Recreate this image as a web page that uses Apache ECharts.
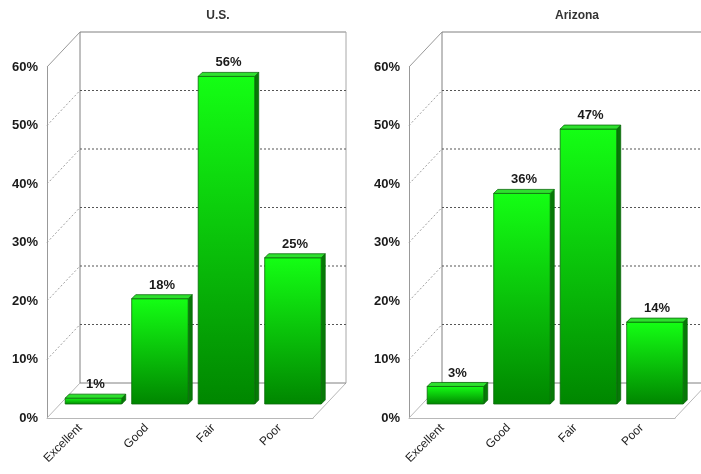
<!DOCTYPE html>
<html>
<head>
<meta charset="utf-8">
<script src="https://cdn.jsdelivr.net/npm/echarts@6/dist/echarts.min.js"></script>
<style>
  html, body { margin: 0; padding: 0; background: #fff; }
  #chart { width: 701px; height: 474px; }
</style>
</head>
<body>
<div id="chart"></div>
<script>
// Self-rated condition, share of responses per rating
const categories = ['Excellent', 'Good', 'Fair', 'Poor'];
const usValues = [1, 18, 56, 25];
const azValues = [3, 36, 47, 14];
const panelTitles = ['U.S.', 'Arizona'];
const yTicks = [0, 10, 20, 30, 40, 50, 60];

const FONT = '"Liberation Sans", Arial, sans-serif';
const WALL = [33, -35];      // offset of the back wall from the front plane
const BAR_DEPTH = 0.4;       // bars stand 40% of the way back
const BAR_THICK = 4;         // extrusion of each bar
const BAR_WIDTH = 0.85;      // share of category band

// Box: back wall, floor and dashed guides, all through the axis scales
function renderFrame(params, api) {
  const cs = params.coordSys;
  const x0 = cs.x, x1 = cs.x + cs.width;
  const dx = WALL[0], dy = WALL[1];
  const y = v => api.coord([0, v])[1];
  const yMin = y(yTicks[0]), yMax = y(yTicks[yTicks.length - 1]);
  const children = [];
  const line = (a, b, stroke, dashed) => children.push({
    type: 'line',
    shape: { x1: a[0], y1: a[1], x2: b[0], y2: b[1] },
    style: { stroke: stroke, lineWidth: 1, lineDash: dashed ? [2, 2] : null }
  });
  // floor
  line([x0, yMin], [x0 + dx, yMin + dy], '#b8b8b8');
  line([x1, yMin], [x1 + dx, yMin + dy], '#b8b8b8');
  line([x0 + dx, yMin + dy], [x1 + dx, yMin + dy], '#808080');
  // back wall outline
  line([x0 + dx, yMin + dy], [x0 + dx, yMax + dy], '#808080');
  line([x0 + dx, yMax + dy], [x1 + dx, yMax + dy], '#808080');
  line([x1 + dx, yMin + dy], [x1 + dx, yMax + dy], '#a8a8a8');
  line([x0, yMax], [x0 + dx, yMax + dy], '#999');
  // inner guides
  yTicks.slice(1, -1).forEach(t => {
    const yy = y(t);
    line([x0, yy], [x0 + dx, yy + dy], '#a0a0a0', true);
    line([x0 + dx, yy + dy], [x1 + dx, yy + dy], '#555', true);
  });
  return { type: 'group', children: children };
}

// Extruded bar with value label
function renderBar(params, api) {
  const i = api.value(0), v = api.value(1);
  const base = api.coord([i, 0]);
  const top = api.coord([i, v]);
  const w = api.size([1, 0])[0] * BAR_WIDTH;
  const ox = WALL[0] * BAR_DEPTH, oy = WALL[1] * BAR_DEPTH;
  const d = BAR_THICK;
  const l = base[0] - w / 2 + ox, r = l + w;
  const yb = base[1] + oy, yt = top[1] + oy;
  const edge = '#0a6a0a';
  return {
    type: 'group',
    children: [
      {
        type: 'polygon',
        shape: { points: [[r, yt], [r + d, yt - d], [r + d, yb - d], [r, yb]] },
        style: { fill: '#067a06', stroke: edge, lineWidth: 0.8 }
      },
      {
        type: 'rect',
        shape: { x: l, y: yt, width: w, height: yb - yt },
        style: {
          fill: {
            type: 'linear', x: 0, y: 0, x2: 0, y2: 1,
            colorStops: [
              { offset: 0, color: '#14ff14' },
              { offset: 1, color: '#008600' }
            ]
          },
          stroke: edge, lineWidth: 0.8
        }
      },
      {
        type: 'polygon',
        shape: { points: [[l, yt], [l + d, yt - d], [r + d, yt - d], [r, yt]] },
        style: { fill: '#2ee02e', stroke: edge, lineWidth: 0.8 }
      },
      {
        type: 'text',
        style: {
          text: v + '%',
          x: (l + r) / 2 + d / 2,
          y: yt - d - 3,
          align: 'center',
          verticalAlign: 'bottom',
          font: 'bold 13px ' + FONT,
          fill: '#1a1a1a'
        }
      }
    ]
  };
}

const grids = [
  { left: 47, right: 388, top: 67, bottom: 56 },
  { left: 409, right: 26, top: 67, bottom: 56 }
];
const panelData = [usValues, azValues];
const titleCenters = [213, 572];

const option = {
  animation: false,
  backgroundColor: '#fff',
  textStyle: { fontFamily: FONT },
  title: panelTitles.map((t, k) => ({
    text: t,
    left: titleCenters[k],
    textAlign: 'center',
    top: 5,
    textStyle: { fontFamily: FONT, fontSize: 12, fontWeight: 'bold', color: '#333' }
  })),
  grid: grids,
  xAxis: grids.map((g, k) => ({
    type: 'category',
    gridIndex: k,
    data: categories,
    axisLine: { show: true, lineStyle: { color: '#b8b8b8', width: 1 } },
    axisTick: { show: false },
    splitLine: { show: false },
    axisLabel: {
      rotate: 45, margin: 8, fontSize: 12, color: '#222', fontFamily: FONT,
      interval: 0
    }
  })),
  yAxis: grids.map((g, k) => ({
    type: 'value',
    gridIndex: k,
    min: yTicks[0], max: yTicks[yTicks.length - 1], interval: 10,
    axisLine: { show: true, lineStyle: { color: '#999', width: 1 } },
    axisTick: { show: false },
    splitLine: { show: false },
    axisLabel: {
      formatter: '{value}%', margin: 9, fontSize: 13, fontWeight: 'bold',
      color: '#1a1a1a', fontFamily: FONT
    }
  })),
  series: []
};

panelData.forEach((vals, k) => {
  option.series.push({
    type: 'custom',
    xAxisIndex: k, yAxisIndex: k,
    renderItem: renderFrame,
    clip: false,
    silent: true,
    z: 1,
    data: [[0, 0]]
  });
  option.series.push({
    type: 'custom',
    name: panelTitles[k],
    xAxisIndex: k, yAxisIndex: k,
    renderItem: renderBar,
    clip: false,
    z: 3,
    encode: { x: 0, y: 1 },
    data: vals.map((v, i) => [i, v])
  });
});

const chart = echarts.init(document.getElementById('chart'), null, { renderer: 'canvas' });
chart.setOption(option);
</script>
</body>
</html>
